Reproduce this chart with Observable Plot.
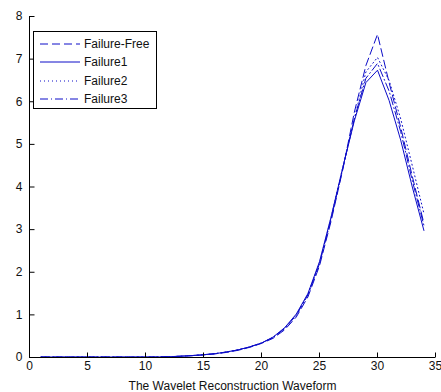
<!DOCTYPE html>
<html>
<head>
<meta charset="utf-8">
<script src="https://cdn.jsdelivr.net/npm/d3@7"></script>
<script src="https://cdn.jsdelivr.net/npm/@observablehq/plot@0.6"></script>
<style>
  html, body { margin: 0; padding: 0; background: #fff; }
  #wrap { position: relative; width: 441px; height: 392px; font-family: "Liberation Sans", Arial, sans-serif; }
  #legend { position: absolute; left: 33px; top: 31px; width: 124px; height: 78px; border: 1px solid #000; background: #fff; box-sizing: border-box; }
  #legend .row { position: absolute; left: 0; height: 14px; display: flex; align-items: center; font-size: 12px; color: #111; }
  #legend svg { width: 46px; height: 14px; display: block; }
  #legend span { margin-left: 4px; white-space: nowrap; }
</style>
</head>
<body>
<div id="wrap"></div>
<script>
const xs = [1,2,3,4,5,6,7,8,9,10,11,12,13,14,15,16,17,18,19,20,21,22,23,24,25,26,27,28,29,30,31,32,33,34];
const failureFree = [0.01,0.01,0.01,0.01,0.01,0.01,0.01,0.01,0.01,0.01,0.012,0.018,0.028,0.042,0.06,0.085,0.12,0.17,0.24,0.33,0.45,0.65,0.95,1.42,2.15,3.2,4.4,5.75,6.85,7.58,6.45,5.4,4.25,3.15];
const failure1 = [0.01,0.01,0.01,0.01,0.01,0.01,0.01,0.01,0.01,0.01,0.012,0.018,0.03,0.045,0.065,0.09,0.13,0.18,0.25,0.34,0.48,0.7,1.02,1.5,2.25,3.3,4.45,5.55,6.45,6.74,6.03,5.1,4.0,2.98];
const failure2 = [0.01,0.01,0.01,0.01,0.01,0.01,0.01,0.01,0.01,0.01,0.012,0.018,0.03,0.045,0.065,0.09,0.13,0.18,0.25,0.34,0.47,0.69,1.0,1.48,2.22,3.28,4.45,5.6,6.7,7.04,6.5,5.6,4.5,3.38];
const failure3 = [0.01,0.01,0.01,0.01,0.01,0.01,0.01,0.01,0.01,0.01,0.012,0.018,0.03,0.045,0.065,0.09,0.13,0.18,0.25,0.34,0.47,0.68,0.99,1.47,2.2,3.25,4.42,5.6,6.55,6.9,6.25,5.3,4.15,3.1];
const seriesNames = ["Failure-Free","Failure1","Failure2","Failure3"];
const seriesValues = [failureFree, failure1, failure2, failure3];
const dashes = ["8,4", null, "1,3", "8,3,1,3"];
const lineColor = "#0c0cc8";
const xTicks = [0,5,10,15,20,25,30,35];
const yTicks = [0,1,2,3,4,5,6,7,8];
const xLabel = "The Wavelet Reconstruction Waveform";

const rows = [];
seriesNames.forEach((name, i) => xs.forEach((x, j) => rows.push({series: name, x, y: seriesValues[i][j]})));

const lineMarks = seriesNames.map((name, i) =>
  Plot.line(rows.filter(d => d.series === name), {
    x: "x", y: "y", stroke: lineColor, strokeWidth: 1,
    strokeDasharray: dashes[i] || undefined
  })
);

const xMin = xTicks[0], yMin = yTicks[0];
// inward tick glyphs (MATLAB style)
const tickUp = {draw(ctx) { ctx.moveTo(0, 0); ctx.lineTo(0, -5); }};
const tickRight = {draw(ctx) { ctx.moveTo(0, 0); ctx.lineTo(5, 0); }};

const chart = Plot.plot({
  width: 441,
  height: 392,
  marginLeft: 29,
  marginRight: 6,
  marginTop: 16,
  marginBottom: 35,
  style: {fontFamily: "'Liberation Sans', Arial, sans-serif", fontSize: "12px", background: "#fff", color: "#111"},
  x: {domain: [0, 35]},
  y: {domain: [0, 8]},
  marks: [
    Plot.axisX(xTicks, {tickSize: 0, tickPadding: 4, label: xLabel, labelAnchor: "center", labelOffset: 32, labelArrow: "none", fontSize: 12}),
    Plot.axisY(yTicks, {tickSize: 0, tickPadding: 7, label: null, fontSize: 12}),
    ...lineMarks,
    Plot.dot(xTicks, {x: d => d, y: () => yMin, symbol: tickUp, stroke: "#000", strokeWidth: 1}),
    Plot.dot(yTicks, {x: () => xMin, y: d => d, symbol: tickRight, stroke: "#000", strokeWidth: 1}),
    Plot.ruleX([xMin], {stroke: "#000"}),
    Plot.ruleY([yMin], {stroke: "#000"})
  ]
});
const wrap = document.getElementById("wrap");
wrap.appendChild(chart);

const legend = document.createElement("div");
legend.id = "legend";
seriesNames.forEach((name, i) => {
  const row = document.createElement("div");
  row.className = "row";
  row.style.top = (5 + i * 18.3) + "px";
  const svg = document.createElementNS("http://www.w3.org/2000/svg", "svg");
  const ln = document.createElementNS("http://www.w3.org/2000/svg", "line");
  ln.setAttribute("x1", 6); ln.setAttribute("x2", 46);
  ln.setAttribute("y1", 7); ln.setAttribute("y2", 7);
  ln.setAttribute("stroke", lineColor);
  ln.setAttribute("stroke-width", 1);
  if (dashes[i]) ln.setAttribute("stroke-dasharray", dashes[i]);
  svg.appendChild(ln);
  const sp = document.createElement("span");
  sp.textContent = name;
  row.appendChild(svg); row.appendChild(sp);
  legend.appendChild(row);
});
wrap.appendChild(legend);
</script>
</body>
</html>
